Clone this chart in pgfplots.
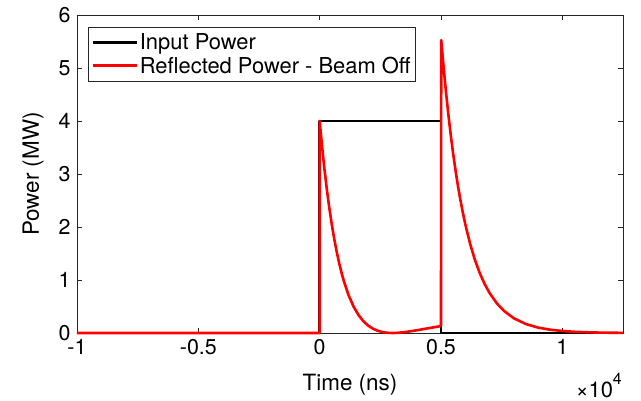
\documentclass[border=0pt]{standalone}
\usepackage{fontspec}
\setmainfont{TeX Gyre Heros}
\usepackage{pgfplots}
\pgfplotsset{compat=1.18}
\definecolor{axgray}{RGB}{38,38,38}
\begin{document}
\begin{tikzpicture}[font=\fontsize{21.5}{26}\selectfont]
\begin{axis}[
  scale only axis, width=546bp, height=318bp,
  xmin=-10000, xmax=12500, ymin=0, ymax=6,
  xtick={-10000,-5000,0,5000,10000},
  xticklabels={-1,-0.5,0,0.5,1},
  scaled x ticks=false, scaled y ticks=false,
  ytick={0,1,2,3,4,5,6},
  /pgf/number format/assume math mode=true,
  tick label style={font=\fontsize{21.5}{26}\selectfont},
  xticklabel style={yshift=-3bp},
  yticklabel style={xshift=-3bp},
  label style={font=\fontsize{22.5}{27}\selectfont},
  xlabel={Time (ns)}, ylabel={Power (MW)},
  xlabel style={yshift=-12bp},
  ylabel style={yshift=8bp},
  axis line style={axgray, line width=0.6bp},
  tick style={axgray, line width=0.6bp},
  major tick length=5bp, tick align=inside,
  xtick pos=both, ytick pos=both,
  xticklabel pos=lower, yticklabel pos=left,
  clip=false,
  legend cell align=left,
  legend image code/.code={\draw[#1] (0bp,0bp) -- (44bp,0bp);},
  legend style={at={(0,1)}, anchor=north west, xshift=11bp, yshift=-12bp,
    draw=axgray, line width=0.5bp, fill=white, font=\fontsize{22}{27}\selectfont,
    inner xsep=3bp, inner ysep=4.5bp, row sep=1.5bp},
]
\addplot[black, line width=2.6bp, line join=round] coordinates {
(-10000,0) (0,0) (0,4) (5000,4) (5000,0) (12500,0)
};
\addlegendentry{Input Power}
\addplot[red, line width=2.6bp, line join=round] coordinates {
(-10000,0) (0,0) (0,4.000) (100,3.514) (200,3.080) (300,2.694) (400,2.351)
(500,2.047) (600,1.777) (700,1.537) (800,1.326) (900,1.139) (1000,0.975)
(1200,0.703) (1400,0.496) (1600,0.339) (1800,0.223) (2000,0.139) (2200,0.080)
(2400,0.041) (2600,0.016) (2800,0.004) (3000,0.000) (3200,0.003) (3500,0.016)
(4000,0.051) (4500,0.092) (5000,0.132) (5010,5.527) (5100,5.051) (5200,4.571)
(5300,4.136) (5400,3.742) (5500,3.386) (5600,3.064) (5700,2.772) (5800,2.508)
(5900,2.270) (6000,2.054) (6200,1.681) (6400,1.377) (6600,1.127) (6800,0.923)
(7000,0.756) (7300,0.560) (7600,0.415) (8000,0.278) (8500,0.169) (9000,0.102)
(9500,0.062) (10000,0.038) (10500,0.023) (11000,0.014) (11500,0.008)
(12000,0.005) (12500,0.003)
};
\addlegendentry{Reflected Power - Beam Off}
\node[anchor=south east, inner sep=0pt, yshift=-65bp, xshift=-1bp, font=\fontsize{22}{26}\selectfont] at (rel axis cs:1,0) {×10\raisebox{0.6em}{\fontsize{16}{18}\selectfont 4}};
\end{axis}
\path[use as bounding box] (current axis.south west) ++(-77bp,-68bp) rectangle ++(641bp,401bp);
\end{tikzpicture}
\end{document}
